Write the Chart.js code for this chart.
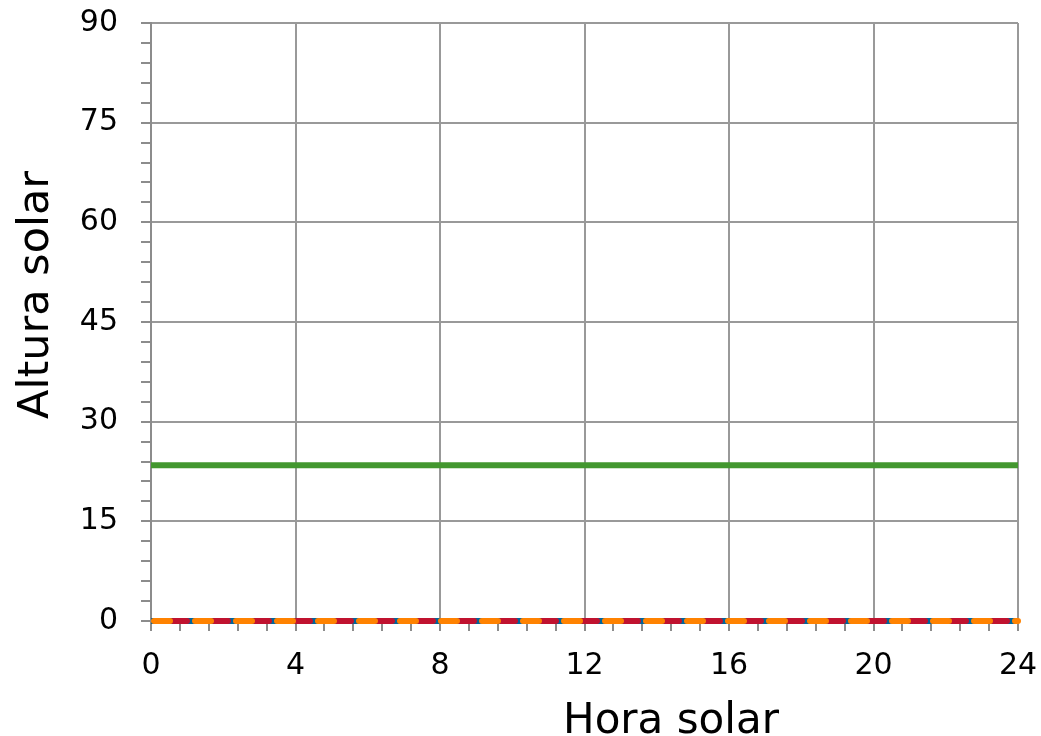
<!DOCTYPE html>
<html>
<head>
<meta charset="utf-8">
<script src="https://cdn.jsdelivr.net/npm/chart.js@4.4.1/dist/chart.umd.min.js"></script>
<style>
  html, body { margin: 0; padding: 0; background: #ffffff; }
  #wrap { width: 1041px; height: 736px; }
</style>
</head>
<body>
<div id="wrap"><canvas id="grafico"></canvas></div>
<script>
// horas solares (eje X)
const horas = [0, 1, 2, 3, 4, 5, 6, 7, 8, 9, 10, 11, 12, 13, 14, 15, 16, 17, 18, 19, 20, 21, 22, 23, 24];
// altura solar de cada curva
const solsticioVerano = [23.45, 23.45, 23.45, 23.45, 23.45, 23.45, 23.45, 23.45, 23.45, 23.45, 23.45, 23.45, 23.45, 23.45, 23.45, 23.45, 23.45, 23.45, 23.45, 23.45, 23.45, 23.45, 23.45, 23.45, 23.45];
const equinoccio = [0, 0, 0, 0, 0, 0, 0, 0, 0, 0, 0, 0, 0, 0, 0, 0, 0, 0, 0, 0, 0, 0, 0, 0, 0];
const solsticioInvierno = [0, 0, 0, 0, 0, 0, 0, 0, 0, 0, 0, 0, 0, 0, 0, 0, 0, 0, 0, 0, 0, 0, 0, 0, 0];
const otraFecha = [0, 0, 0, 0, 0, 0, 0, 0, 0, 0, 0, 0, 0, 0, 0, 0, 0, 0, 0, 0, 0, 0, 0, 0, 0];
const etiquetasX = [0, 4, 8, 12, 16, 20, 24];
const etiquetasY = [0, 15, 30, 45, 60, 75, 90];
const tituloX = 'Hora solar';
const tituloY = 'Altura solar';

const puntos = (vals) => horas.map((h, i) => ({ x: h, y: vals[i] }));
const esMayor = (v, lista) => lista.some(t => Math.abs(t - v) < 1e-6);

// los títulos de los ejes no están centrados en el original, se dibujan aparte
const titulosEjes = {
    id: 'titulosEjes',
    afterDraw(chart) {
        const c = chart.ctx;
        c.save();
        c.fillStyle = '#000000';
        c.font = "42px 'DejaVu Sans', sans-serif";
        c.textAlign = 'center';
        c.textBaseline = 'alphabetic';
        c.fillText(tituloX, 671, 733);
        c.translate(48, 295);
        c.rotate(-Math.PI / 2);
        c.font = "43px 'DejaVu Sans', sans-serif";
        c.fillText(tituloY, 0, 0);
        c.restore();
    }
};

const ctx = document.getElementById('grafico').getContext('2d');
const grafico = new Chart(ctx, {
    type: 'line',
    data: {
        datasets: [
            {
                label: 'Solsticio verano',
                data: puntos(solsticioVerano),
                borderColor: '#43972f',
                borderWidth: 6,
                pointRadius: 0,
                order: 1
            },
            {
                label: 'Equinoccio',
                data: puntos(equinoccio),
                borderColor: '#00649a',
                borderWidth: 6,
                pointRadius: 0,
                order: 4
            },
            {
                label: 'Solsticio invierno',
                data: puntos(solsticioInvierno),
                borderColor: '#c0122f',
                borderWidth: 6,
                borderDash: [14, 27],
                borderDashOffset: -22,
                borderCapStyle: 'round',
                pointRadius: 0,
                order: 3
            },
            {
                label: 'Otra fecha',
                data: puntos(otraFecha),
                borderColor: '#ff8200',
                borderWidth: 6,
                borderDash: [16, 25],
                borderDashOffset: -3,
                borderCapStyle: 'round',
                pointRadius: 0,
                order: 2
            }
        ]
    },
    options: {
        responsive: true,
        maintainAspectRatio: false,
        animation: false,
        clip: false,
        layout: {
            padding: { top: 23, right: 23, left: 9, bottom: 0 }
        },
        plugins: {
            legend: { display: false },
            tooltip: { enabled: false }
        },
        scales: {
            x: {
                type: 'linear',
                min: 0,
                max: 24,
                // alto fijo del eje para que el área del gráfico quede donde en el original
                afterFit: (s) => {
                    s.height = 115;
                    s.paddingLeft = 0;
                    s.paddingRight = 0;
                },
                border: { color: '#8c8c8c', width: 2 },
                grid: {
                    color: (c) => esMayor(c.tick.value, etiquetasX) ? '#999999' : 'rgba(0,0,0,0)',
                    tickColor: '#8c8c8c',
                    lineWidth: 2,
                    tickLength: 10
                },
                ticks: {
                    stepSize: 0.8,
                    autoSkip: false,
                    maxRotation: 0,
                    color: '#000000',
                    padding: 17,
                    font: { family: "'DejaVu Sans', sans-serif", size: 30 },
                    callback: (v) => esMayor(v, etiquetasX) ? String(Math.round(v)) : ''
                },
                title: { display: false }
            },
            y: {
                min: 0,
                max: 90,
                afterFit: (s) => {
                    s.width = 142;
                    s.paddingTop = 0;
                    s.paddingBottom = 0;
                },
                border: { color: '#8c8c8c', width: 2 },
                grid: {
                    color: (c) => esMayor(c.tick.value, etiquetasY) ? '#999999' : 'rgba(0,0,0,0)',
                    tickColor: '#8c8c8c',
                    lineWidth: 2,
                    tickLength: 10
                },
                ticks: {
                    stepSize: 3,
                    autoSkip: false,
                    color: '#000000',
                    padding: 23,
                    font: { family: "'DejaVu Sans', sans-serif", size: 30 },
                    callback: (v) => esMayor(v, etiquetasY) ? String(Math.round(v)) : ''
                },
                title: { display: false }
            }
        }
    },
    plugins: [titulosEjes]
});
</script>
</body>
</html>
